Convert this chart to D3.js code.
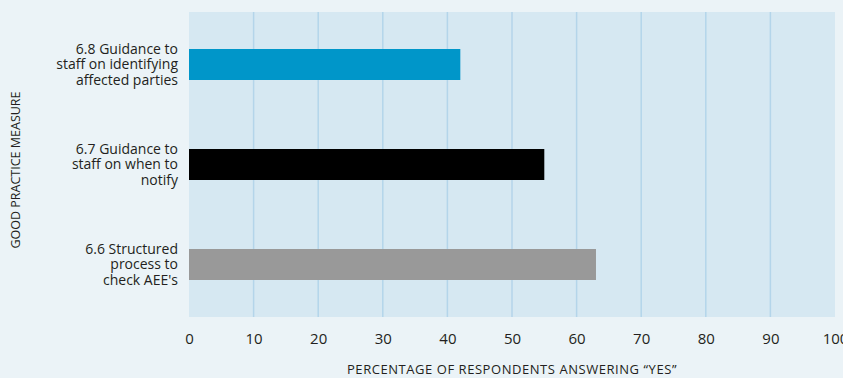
<!DOCTYPE html>
<html>
<head>
<meta charset="utf-8">
<script src="https://cdn.jsdelivr.net/npm/d3@7"></script>
<style>
  body { margin: 0; background: #ebf3f7; }
  svg { display: block; }
  text { font-family: "Open Sans", sans-serif; fill: #231f20; }
</style>
</head>
<body>
<div id="chart"></div>
<script>
"use strict";

// good practice measures, top to bottom
var categories = ["6.8", "6.7", "6.6"];
var labelLines = [
	["6.8 Guidance to", "staff on identifying", "affected parties"],
	["6.7 Guidance to", "staff on when to", "notify"],
	["6.6 Structured", "process to", "check AEE's"]
];
var values = [42, 55, 63];
var barColors = ["#0096c9", "#000000", "#999999"];
var xTicks = [0, 10, 20, 30, 40, 50, 60, 70, 80, 90, 100];
var xTitle = "PERCENTAGE OF RESPONDENTS ANSWERING \u201cYES\u201d";
var yTitle = "GOOD PRACTICE MEASURE";

var width = 843, height = 378;
var margin = {top: 12, right: 7, bottom: 61, left: 189};
var plotW = width - margin.left - margin.right,
	plotH = height - margin.top - margin.bottom;

var svg = d3.select("#chart").append("svg")
	.attr("width", width)
	.attr("height", height);

svg.append("rect")
	.attr("width", width).attr("height", height)
	.attr("fill", "#ebf3f7");

var g = svg.append("g")
	.attr("transform", "translate(" + margin.left + "," + margin.top + ")");

var x = d3.scaleLinear().domain([0, 100]).range([0, plotW - 1]);
var y = d3.scaleBand().domain(categories).range([0, plotH])
	.paddingInner(0.69).paddingOuter(0.37);

// plot background
g.append("rect")
	.attr("width", x(100)).attr("height", plotH)
	.attr("fill", "#d6e8f2");

// vertical grid lines (not at 0 or 100)
g.selectAll(".grid")
	.data(xTicks.filter(function(d) { return d > 0 && d < 100; }))
	.enter().append("line")
	.attr("class", "grid")
	.attr("x1", function(d) { return x(d); })
	.attr("x2", function(d) { return x(d); })
	.attr("y1", 0).attr("y2", plotH)
	.attr("stroke", "#b4d5ea")
	.attr("stroke-width", 1.5);

// bars
g.selectAll(".bar")
	.data(values)
	.enter().append("rect")
	.attr("class", "bar")
	.attr("x", x(0))
	.attr("y", function(d, i) { return y(categories[i]); })
	.attr("width", function(d) { return x(d) - x(0); })
	.attr("height", y.bandwidth())
	.attr("fill", function(d, i) { return barColors[i]; });

// x axis, labels only
var xAxis = g.append("g")
	.attr("transform", "translate(0," + plotH + ")")
	.call(d3.axisBottom(x).tickValues(xTicks).tickSize(0).tickPadding(16));
xAxis.select(".domain").remove();
xAxis.selectAll("text")
	.style("font-family", "'Open Sans', sans-serif")
	.style("font-size", "15px")
	.attr("fill", "#231f20");

// category labels, multi line, right aligned
var lineH = 15.5;
var labels = g.selectAll(".cat")
	.data(categories)
	.enter().append("text")
	.attr("class", "cat")
	.attr("text-anchor", "end")
	.style("font-size", "14px")
	.attr("transform", function(d) {
		return "translate(-11," + (y(d) + y.bandwidth() / 2) + ")";
	});

labels.each(function(d, i) {
	var lines = labelLines[i];
	var el = d3.select(this);
	lines.forEach(function(t, j) {
		el.append("tspan")
			.attr("x", 0)
			.attr("y", (j - (lines.length - 1) / 2) * lineH)
			.attr("dy", "0.35em")
			.text(t);
	});
});

// axis titles
svg.append("text")
	.attr("x", margin.left + x(50))
	.attr("y", 374)
	.attr("text-anchor", "middle")
	.style("font-size", "13px")
	.style("letter-spacing", "0.55px")
	.text(xTitle);

svg.append("text")
	.attr("transform", "translate(20," + 170 + ") rotate(-90)")
	.attr("text-anchor", "middle")
	.style("font-size", "12.5px")
	.text(yTitle);
</script>
</body>
</html>
